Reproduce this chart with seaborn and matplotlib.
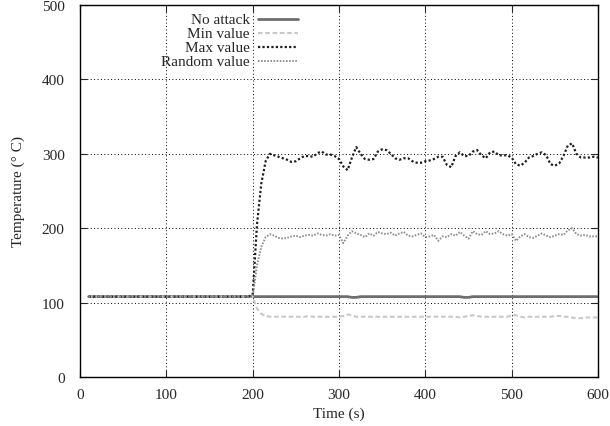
import numpy as np
import pandas as pd
import seaborn as sns
import matplotlib
matplotlib.use("Agg")
import matplotlib.pyplot as plt

# ---------- data ----------
t_pre = list(range(10, 200, 5))            # flat part, every series sits at ~108
t_post = list(range(200, 605, 5))

pre_val = [108] * len(t_pre)

no_attack = [108, 108, 108, 108, 108, 108, 108, 108, 108, 108, 108, 108, 108, 108, 108, 108,
             108, 108, 108, 108, 108, 108, 108, 107, 107, 108, 108, 108, 108, 108, 108, 108,
             108, 108, 108, 108, 108, 108, 108, 108, 108, 108, 108, 108, 108, 108, 108, 108,
             108, 107, 107, 108, 108, 108, 108, 108, 108, 108, 108, 108, 108, 108, 108, 108,
             108, 108, 108, 108, 108, 108, 108, 108, 108, 108, 108, 108, 108, 108, 108, 108, 108]

min_value = [108, 92, 85, 82, 81, 81, 81, 81, 81, 81, 81, 81, 81, 82, 81, 81,
             81, 81, 81, 81, 81, 82, 84, 83, 81, 81, 81, 81, 81, 81, 81, 81,
             81, 81, 81, 81, 81, 81, 81, 81, 81, 81, 81, 81, 81, 81, 81, 81,
             80, 81, 82, 83, 82, 81, 81, 81, 81, 81, 81, 81, 83, 83, 81, 80,
             81, 81, 81, 81, 81, 81, 82, 82, 81, 81, 80, 79, 79, 80, 80, 80, 80]

max_value = [110, 205, 260, 290, 300, 298, 296, 294, 292, 289, 290, 294, 297, 297, 296, 301,
             303, 299, 299, 297, 293, 283, 278, 295, 309, 300, 293, 292, 293, 303, 306, 305,
             300, 294, 292, 294, 294, 290, 288, 288, 290, 291, 293, 296, 296, 285, 282, 297,
             302, 297, 297, 303, 305, 298, 294, 302, 303, 298, 298, 298, 295, 286, 284, 288,
             295, 297, 300, 302, 298, 286, 284, 287, 297, 311, 314, 300, 295, 295, 295, 296, 295]

random_value = [108, 150, 175, 188, 192, 190, 187, 186, 187, 189, 190, 188, 190, 191, 190, 193,
                191, 190, 192, 190, 191, 180, 190, 196, 193, 191, 188, 193, 190, 195, 193, 192,
                194, 190, 193, 195, 190, 189, 191, 193, 188, 189, 191, 183, 189, 188, 192, 190,
                195, 190, 186, 196, 192, 191, 196, 192, 193, 196, 192, 190, 192, 183, 189, 192,
                188, 187, 190, 193, 190, 188, 190, 192, 191, 197, 200, 192, 190, 191, 189, 189, 189]

labels = ["No attack", "Min value", "Max value", "Random value"]
series = [no_attack, min_value, max_value, random_value]

# ---------- style ----------
colors = ["#6e6e6e", "#c8c8c8", "#1e1e1e", "#8c8c8c"]
dashes = ["-", (0, (2.2, 1.3)), (0, (1, 1)), (0, (0.8, 0.8))]
widths = [2.0, 1.5, 1.6, 1.4]

sns.set_style("ticks")
plt.rcParams["font.family"] = ["Liberation Serif", "DejaVu Serif"]
plt.rcParams["font.size"] = 11

fig = plt.figure(figsize=(6.1, 4.27), dpi=100)
ax = fig.add_axes([80 / 610, 49 / 427, 518 / 610, 372 / 427])

rows = []
for name, vals in zip(labels, series):
    for t, v in zip(t_pre + t_post, pre_val + vals):
        rows.append((name, t, v))
df = pd.DataFrame(rows, columns=["serie", "time", "temp"])

for name, c, ls, lw in zip(labels, colors, dashes, widths):
    sns.lineplot(data=df[df["serie"] == name], x="time", y="temp", ax=ax,
                 color=c, linestyle=ls, linewidth=lw, legend=False)

ax.set_xlim(0, 600)
ax.set_ylim(0, 500)
ax.set_xticks(range(0, 601, 100))
ax.set_yticks(range(0, 501, 100))
ax.grid(True, color="black", linestyle=(0, (1, 2.5)), linewidth=0.7)
ax.set_axisbelow(True)
ax.tick_params(direction="in", top=True, right=True, length=5, width=0.8,
               labelsize=11)
ax.tick_params(axis="x", pad=8)
ax.tick_params(axis="y", pad=11)
for s in ax.spines.values():
    s.set_linewidth(1.0)
    s.set_color("black")
ax.set_xlabel("Time (s)", fontsize=11, labelpad=4)
ax.set_ylabel("Temperature (° C)", fontsize=11, labelpad=12)

# gnuplot-like key: right aligned text, sample line after it
for i, (name, c, ls, lw) in enumerate(zip(labels, colors, dashes, widths)):
    yk = 0.962 - i * 0.0376
    ax.text(0.328, yk, name, transform=ax.transAxes, ha="right", va="center",
            fontsize=11, zorder=5)
    ax.plot([0.343, 0.42], [yk, yk], transform=ax.transAxes, color=c,
            linestyle=ls, linewidth=lw, zorder=5)

fig.savefig("out.png", dpi=100)
